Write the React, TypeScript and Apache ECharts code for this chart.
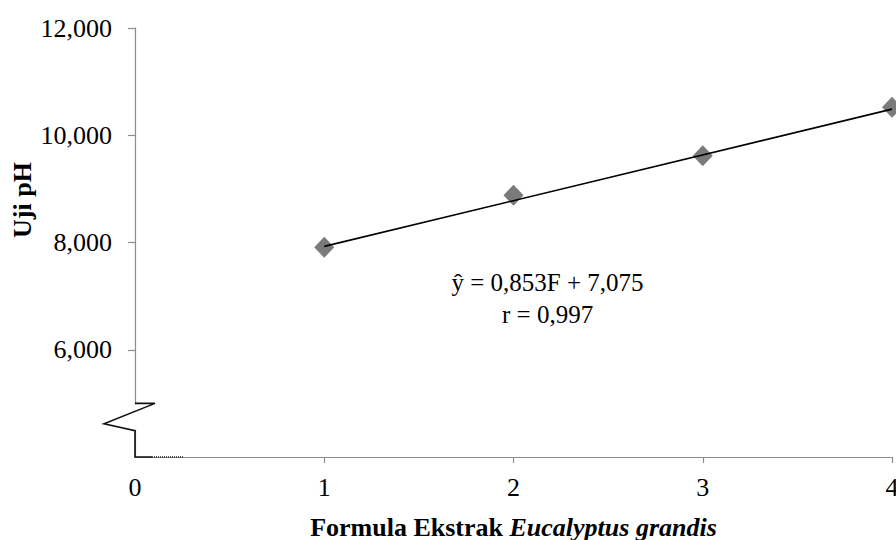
import React, { useEffect, useRef } from "react";
import * as echarts from "echarts";

const formulaLevels = [1, 2, 3, 4];
const phValues = [7.91, 8.88, 9.62, 10.52];
const xTickLabels = [0, 1, 2, 3, 4];
const yTickLabels = [6, 8, 10, 12];
const slope = 0.853;
const intercept = 7.075;
const trendX = [1, 4];
const equationText = "ŷ = 0,853F + 7,075";
const rText = "r = 0,997";
const xTitleRegular = "Formula Ekstrak ";
const xTitleItalic = "Eucalyptus grandis";
const yTitle = "Uji pH";

const FONT = "'Liberation Serif', 'Times New Roman', serif";

export default function App() {
  const ref = useRef<HTMLDivElement>(null);
  useEffect(() => {
    if (!ref.current) return;
    const chart = echarts.init(ref.current, null, { renderer: "svg" });
    const fmt = (v: number) => v.toFixed(3).replace(".", ",");
    chart.setOption({
      animation: false,
      backgroundColor: "#fff",
      textStyle: { fontFamily: FONT },
      grid: { left: 135, right: 4, top: 28, bottom: 83, containLabel: false, outerBoundsMode: "none" },
      xAxis: {
        type: "value",
        min: 0,
        max: 4,
        interval: 1,
        splitLine: { show: false },
        axisLine: { show: true, lineStyle: { color: "#8c8c8c", width: 1.2 } },
        axisTick: { show: true, inside: false, length: 6, customValues: formulaLevels, lineStyle: { color: "#8c8c8c", width: 1.2 } },
        axisLabel: { customValues: xTickLabels, formatter: (v: number) => String(v), color: "#000", fontSize: 26, fontFamily: FONT, margin: 17, showMaxLabel: true, showMinLabel: true },
        name: `{r|${xTitleRegular}}{i|${xTitleItalic}}`,
        nameLocation: "middle",
        nameGap: 57,
        nameTextStyle: {
          rich: {
            r: { fontSize: 26, fontWeight: "bold", fontFamily: FONT, color: "#000" },
            i: { fontSize: 26, fontWeight: "bold", fontStyle: "italic", fontFamily: FONT, color: "#000" },
          },
        },
      },
      yAxis: {
        type: "value",
        min: 4,
        max: 12,
        interval: 2,
        splitLine: { show: false },
        axisLine: { show: true, lineStyle: { color: "#8c8c8c", width: 1.2 } },
        axisTick: { show: true, inside: false, length: 7, customValues: yTickLabels, lineStyle: { color: "#8c8c8c", width: 1.2 } },
        axisLabel: { customValues: yTickLabels, formatter: fmt, color: "#000", fontSize: 26, fontFamily: FONT, margin: 23 },
      },
      series: [
        {
          type: "scatter",
          data: formulaLevels.map((x, i) => [x, phValues[i]]),
          symbol: "diamond",
          symbolSize: [20, 21],
          itemStyle: { color: "#595959" },
          z: 2,
          clip: false,
        },
        {
          type: "line",
          data: trendX.map((x) => [x, slope * x + intercept]),
          showSymbol: false,
          symbol: "none",
          lineStyle: { color: "#000", width: 1.6 },
          z: 3,
          silent: true,
        },
      ],
    });

    const px = (x: number, y: number) => chart.convertToPixel({ gridIndex: 0 }, [x, y]) as number[];
    const [ax, yTop] = px(0, 5);
    const [, yBase] = px(0, 4);
    const [, yLeft] = px(0, 4.62);
    const [, yBot] = px(0, 4.49);
    const [eqX, eqY] = px(2.18, 6.95);

    chart.setOption({
      graphic: [
        { type: "rect", shape: { x: ax - 3, y: yTop + 1, width: 6, height: yBot - yTop - 2 }, style: { fill: "#fff" }, z: 50 },
        {
          type: "polyline",
          shape: { points: [[ax, yTop], [ax + 20, yTop], [ax - 31, yLeft], [ax, yBot], [ax, yBase], [ax + 17, yBase]] },
          style: { stroke: "#111", lineWidth: 1.6, fill: null },
          z: 51,
        },
        {
          type: "line",
          shape: { x1: ax + 17, y1: yBase, x2: ax + 48, y2: yBase },
          style: { stroke: "#222", lineWidth: 1.6, lineDash: [1, 1] },
          z: 51,
        },
        {
          type: "text",
          x: 22,
          y: 200,
          rotation: Math.PI / 2,
          style: { text: yTitle, font: `bold 26px ${FONT}`, fill: "#000", align: "center", verticalAlign: "middle" },
          z: 60,
        },
        {
          type: "text",
          x: eqX,
          y: eqY,
          style: { text: equationText + "\n" + rText, font: `25px ${FONT}`, fill: "#000", align: "center", verticalAlign: "middle", lineHeight: 32 },
          z: 60,
        },
      ],
    });

    return () => chart.dispose();
  }, []);
  return <div ref={ref} style={{ position: "absolute", left: 0, top: 0, width: 896, height: 540 }} />;
}
